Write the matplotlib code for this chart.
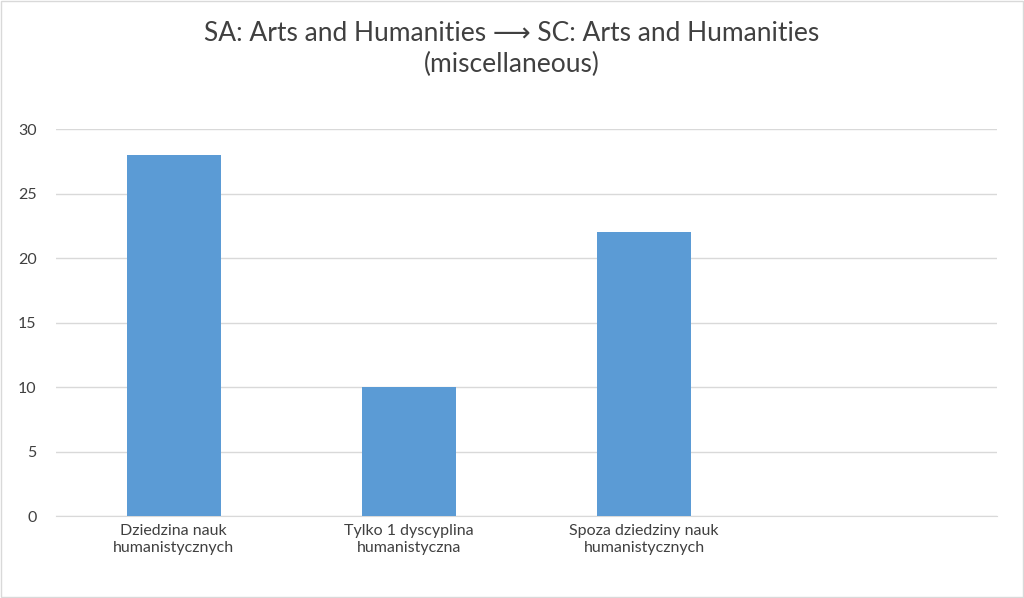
import matplotlib.pyplot as plt

plt.rcParams['font.family'] = ['Lato', 'DejaVu Sans']

categories = ['Dziedzina nauk\nhumanistycznych', 'Tylko 1 dyscyplina\nhumanistyczna',
              'Spoza dziedziny nauk\nhumanistycznych', '']
values = [28, 10, 22, 0]
yticks = [0, 5, 10, 15, 20, 25, 30]

fig = plt.figure(figsize=(10.24, 5.98), dpi=100)
ax = fig.add_axes([0.0547, 0.137, 0.919, 0.647])
x = range(len(categories))
ax.bar(x, values, width=0.4, color='#5b9bd5', zorder=3)
ax.set_xlim(-0.5, 3.5)
ax.set_ylim(0, 30)
ax.set_yticks(yticks)
ax.set_xticks(list(x))
ax.set_xticklabels(categories, fontsize=11.5, color='#404040')
ax.tick_params(axis='y', labelsize=11.5, labelcolor='#404040', length=0, pad=14)
ax.tick_params(axis='x', length=0, pad=6)
ax.grid(axis='y', color='#d9d9d9', linewidth=1, zorder=0)
for s in ['top', 'right', 'left']:
    ax.spines[s].set_visible(False)
ax.spines['bottom'].set_color('#d9d9d9')
fig.suptitle('SA: Arts and Humanities \u27f6 SC: Arts and Humanities\n(miscellaneous)',
             fontsize=19, color='#404040', y=0.965, linespacing=1.3)
fig.patches.append(plt.Rectangle((0.001, 0.001), 0.998, 0.998, transform=fig.transFigure,
                                 fill=False, edgecolor='#d9d9d9', linewidth=1))
fig.savefig('out.png', dpi=100)
